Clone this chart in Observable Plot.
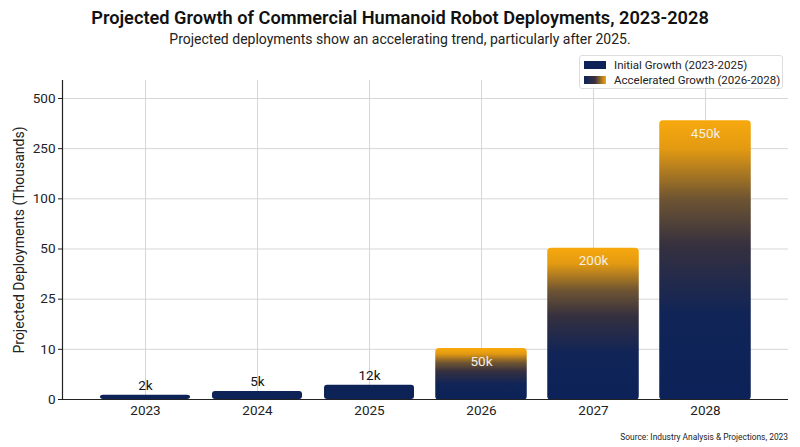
<!DOCTYPE html>
<html>
<head>
<meta charset="utf-8">
<script src="https://cdn.jsdelivr.net/npm/d3@7"></script>
<script src="https://cdn.jsdelivr.net/npm/@observablehq/plot@0.6"></script>
<style>
  html, body { margin: 0; padding: 0; background: #fff; }
  body { width: 800px; height: 447px; position: relative; overflow: hidden; font-family: Roboto, "Noto Sans", sans-serif; color: #111; }
  #header { height: 50px; text-align: center; }
  #title { font-size: 18.2px; font-weight: 600; line-height: 22px; padding-top: 7px; }
  #subtitle { font-size: 14px; line-height: 20px; color: #222; }
  #chart { height: 380px; }
  #caption { height: 17px; font-size: 8.4px; text-align: right; padding-right: 12px; line-height: 14px; color: #222; }
  #legend { position: absolute; left: 579px; top: 55px; width: 204px; height: 34px; background: rgba(255,255,255,0.9); border: 1px solid #ddd; border-radius: 3px; font-size: 11.5px; box-sizing: border-box; }
  .item { position: absolute; left: 4px; height: 14px; line-height: 14px; white-space: nowrap; color: #222; }
  .sw { display: inline-block; width: 22px; height: 8px; vertical-align: middle; margin-right: 8px; position: relative; top: -1px; }
</style>
</head>
<body>
<div id="header">
  <div id="title">Projected Growth of Commercial Humanoid Robot Deployments, 2023-2028</div>
  <div id="subtitle">Projected deployments show an accelerating trend, particularly after 2025.</div>
</div>
<div id="chart"></div>
<div id="caption">Source: Industry Analysis &amp; Projections, 2023</div>
<div id="legend">
  <div class="item" style="top:2px"><span class="sw" style="background:#0d2357"></span>Initial Growth (2023-2025)</div>
  <div class="item" style="top:17px"><span class="sw" style="background:linear-gradient(to right,#0d2357,#3a3140,#f5a50c)"></span>Accelerated Growth (2026-2028)</div>
</div>
<script>
// Data
const years = ["2023", "2024", "2025", "2026", "2027", "2028"];
// bar heights as read on the chart's (uneven) y axis
const barValues = [0.85, 1.6, 2.85, 10, 50, 385];
const valueLabels = ["2k", "5k", "12k", "50k", "200k", "450k"];
const phases = ["initial", "initial", "initial", "accelerated", "accelerated", "accelerated"];
const yTicks = [0, 10, 25, 50, 100, 250, 500];
const yLabel = "Projected Deployments (Thousands)";

const data = years.map((year, i) => ({year, value: barValues[i], label: valueLabels[i], phase: phases[i]}));
const initial = data.filter(d => d.phase === "initial");
const accel = data.filter(d => d.phase === "accelerated");

const H = 380, mTop = 30, mBottom = 31;
const bottom = H - mBottom;
const step = (bottom - 48) / 6;
// piecewise y scale: every tick equally spaced, plus headroom above the last tick
const yDomain = [...yTicks, 590];
const yRange = yTicks.map((t, i) => bottom - i * step).concat([mTop]);

const navy = "#0d2357";
const fontFamily = 'Roboto, "Noto Sans", sans-serif';

const chart = Plot.plot({
  width: 800,
  height: H,
  marginLeft: 62,
  marginRight: 12,
  marginTop: mTop,
  marginBottom: mBottom,
  style: {fontFamily, fontSize: "13px", color: "#222", background: "transparent"},
  x: {domain: years, paddingInner: 0.2, paddingOuter: 0.34, label: null},
  y: {type: "linear", domain: yDomain, range: yRange, label: null},
  marks: [
    Plot.gridY(yTicks, {stroke: "#d6d6d6", strokeOpacity: 1, strokeWidth: 1}),
    Plot.gridX({stroke: "#d6d6d6", strokeOpacity: 1, strokeWidth: 1}),
    Plot.barY(initial, {x: "year", y: "value", fill: navy, rx: 3}),
    Plot.barY(accel, {x: "year", y: "value", fill: "url(#accelGrad)", stroke: "url(#accelGrad)", strokeWidth: 1.5, rx: 3}),
    Plot.text(initial, {x: "year", y: "value", text: "label", dy: -10, fill: "#111", fontSize: 13.5}),
    Plot.text(accel, {x: "year", y: "value", text: "label", dy: 12, fill: "#f4efe4", fontSize: 13.5}),
    Plot.axisY({ticks: yTicks, tickSize: 4, tickPadding: 3, label: null, fontSize: 13.5}),
    Plot.axisX({tickSize: 0, tickPadding: 6, label: null, fontSize: 13.5}),
    Plot.ruleY([0], {stroke: "#222", strokeWidth: 1.2}),
    Plot.frame({anchor: "left", stroke: "#222", strokeWidth: 1.2}),
    Plot.text([yLabel], {frameAnchor: "left", textAnchor: "middle", text: d => d, rotate: -90, dx: -43, fontSize: 14, fill: "#222"})
  ]
});

// gradient definition for accelerated-growth bars
const svg = d3.select(chart);
const defs = svg.insert("defs", ":first-child");
const grad = defs.append("linearGradient").attr("id", "accelGrad")
  .attr("x1", 0).attr("y1", 1).attr("x2", 0).attr("y2", 0);
[[0, "#0c2258"], [0.3, "#102457"], [0.55, "#35303f"], [0.72, "#6e5432"], [0.9, "#e39a12"], [1, "#f6a80d"]]
  .forEach(([o, c]) => grad.append("stop").attr("offset", o).attr("stop-color", c));

document.getElementById("chart").appendChild(chart);
</script>
</body>
</html>
